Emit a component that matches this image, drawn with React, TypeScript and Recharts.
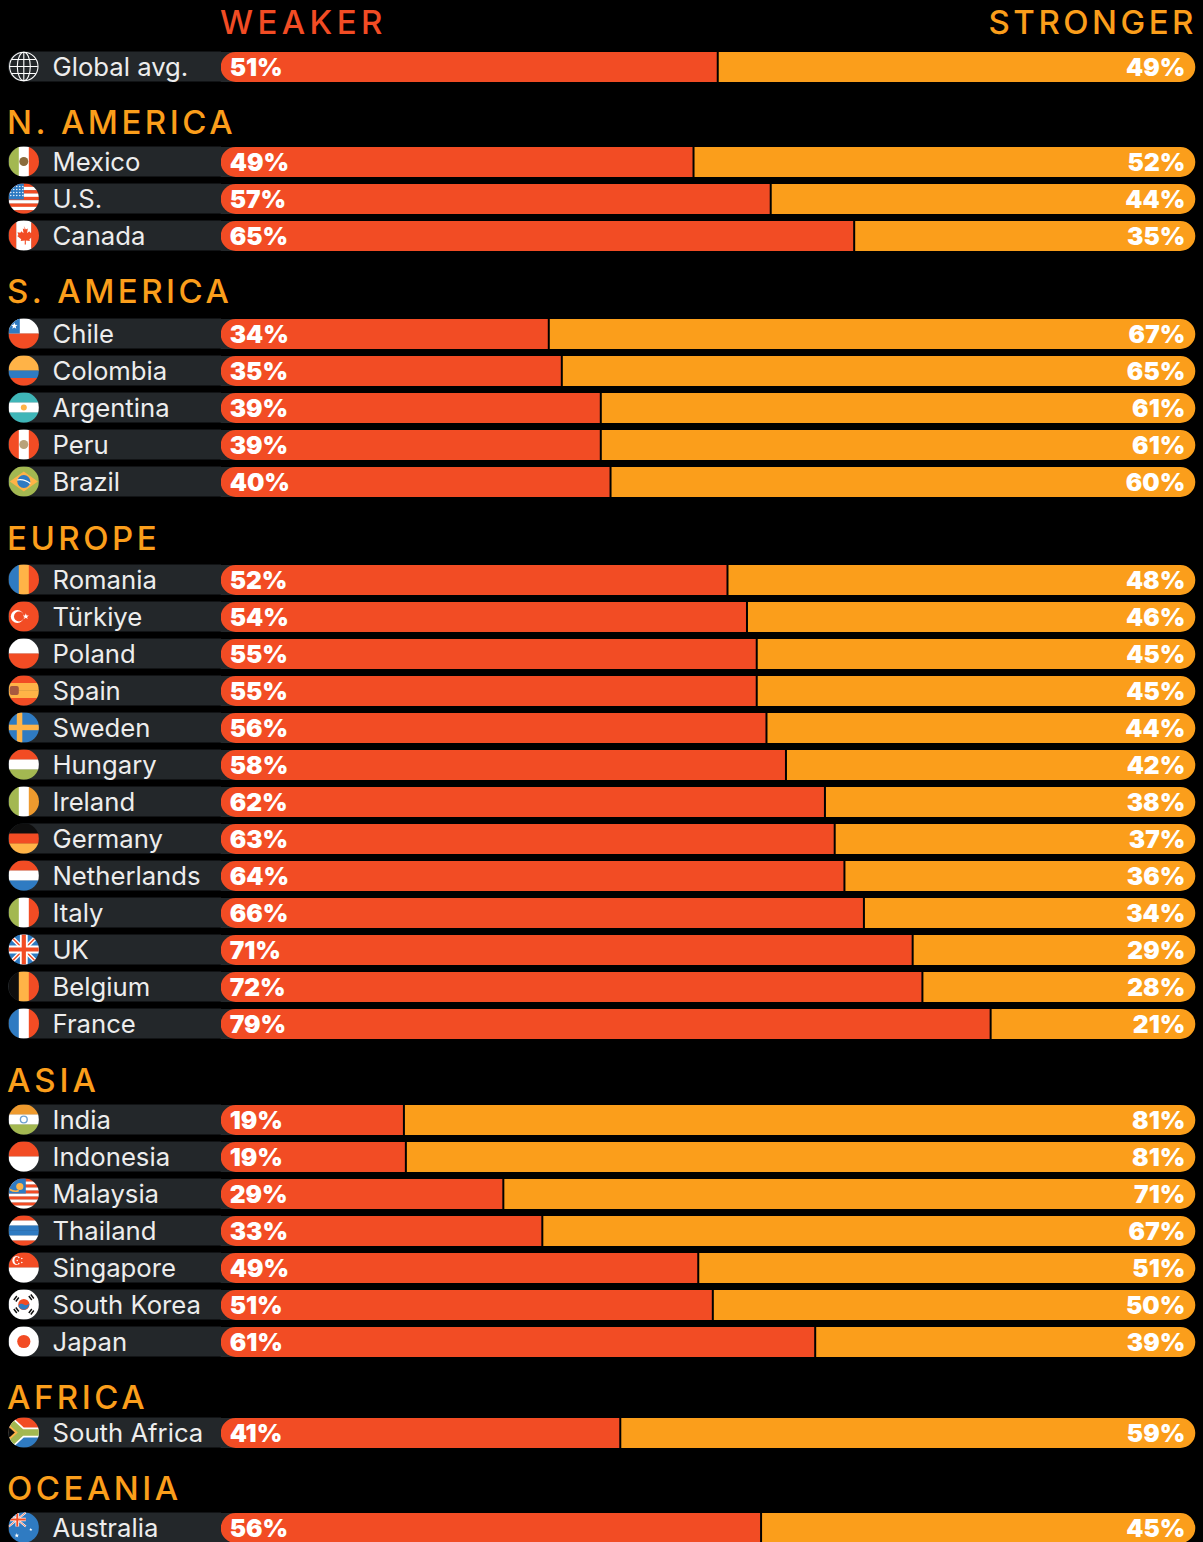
import React from "react";
import { BarChart, Bar, XAxis, YAxis, LabelList, Rectangle } from "recharts";

const RED = "#F24C24";
const ORANGE = "#FB9E1B";
const YELLOW = "#FFB347";
const BLUE = "#2F7BC2";
const GREEN = "#A3B851";
const TEAL = "#3FB6B8";
const WHITE = "#FFFFFF";
const BLACK = "#0E0E0E";
const TRACK = "#23272A";
const HEADING_FONT = "Inter, sans-serif";

const globalNames = ["Global avg."];
const globalWeaker = [51];
const globalStronger = [49];

const nAmericaNames = ["Mexico", "U.S.", "Canada"];
const nAmericaWeaker = [49, 57, 65];
const nAmericaStronger = [52, 44, 35];

const sAmericaNames = ["Chile", "Colombia", "Argentina", "Peru", "Brazil"];
const sAmericaWeaker = [34, 35, 39, 39, 40];
const sAmericaStronger = [67, 65, 61, 61, 60];

const europeNames = [
  "Romania", "Türkiye", "Poland", "Spain", "Sweden", "Hungary", "Ireland",
  "Germany", "Netherlands", "Italy", "UK", "Belgium", "France",
];
const europeWeaker = [52, 54, 55, 55, 56, 58, 62, 63, 64, 66, 71, 72, 79];
const europeStronger = [48, 46, 45, 45, 44, 42, 38, 37, 36, 34, 29, 28, 21];

// India sits a little under 19 in the picture, labels are rounded
const asiaNames = ["India", "Indonesia", "Malaysia", "Thailand", "Singapore", "South Korea", "Japan"];
const asiaWeaker = [18.8, 19, 29, 33, 49, 51, 61];
const asiaStronger = [81.2, 81, 71, 67, 51, 50, 39];

const africaNames = ["South Africa"];
const africaWeaker = [41];
const africaStronger = [59];

const oceaniaNames = ["Australia"];
const oceaniaWeaker = [56];
const oceaniaStronger = [45];

const toRows = (names: string[], weaker: number[], stronger: number[]) =>
  names.map((name, i) => ({ name, weaker: weaker[i], stronger: stronger[i] }));

// plain striped flags: direction + colours, repeated colours make wider bands
const STRIPES: Record<string, [string, string[]]> = {
  Mexico: ["v", [GREEN, WHITE, RED]],
  Canada: ["v", [RED, WHITE, WHITE, RED]],
  Colombia: ["h", [YELLOW, YELLOW, BLUE, RED]],
  Argentina: ["h", [TEAL, WHITE, TEAL]],
  Peru: ["v", [RED, WHITE, RED]],
  Romania: ["v", [BLUE, YELLOW, RED]],
  Poland: ["h", [WHITE, RED]],
  Spain: ["h", [RED, YELLOW, YELLOW, RED]],
  Hungary: ["h", [RED, WHITE, GREEN]],
  Ireland: ["v", [GREEN, WHITE, "#EE9A2E"]],
  Germany: ["h", [BLACK, RED, YELLOW]],
  Netherlands: ["h", [RED, WHITE, BLUE]],
  Italy: ["v", [GREEN, WHITE, RED]],
  Belgium: ["v", [BLACK, YELLOW, RED]],
  France: ["v", [BLUE, WHITE, RED]],
  India: ["h", ["#EE9A2E", WHITE, GREEN]],
  Indonesia: ["h", [RED, WHITE]],
  Thailand: ["h", [RED, WHITE, BLUE, BLUE, WHITE, RED]],
  Singapore: ["h", [RED, WHITE]],
  Chile: ["h", [WHITE, RED]],
};

function Stripes({ dir, colors }: { dir: string; colors: string[] }) {
  const step = 30 / colors.length;
  return (
    <>
      {colors.map((c, i) =>
        dir === "h" ? (
          <rect key={i} x={0} y={i * step} width={30} height={step + 0.3} fill={c} />
        ) : (
          <rect key={i} x={i * step} y={0} width={step + 0.3} height={30} fill={c} />
        )
      )}
    </>
  );
}

function Star({ cx, cy, r, fill }: { cx: number; cy: number; r: number; fill: string }) {
  const pts = Array.from({ length: 10 }, (_, i) => {
    const a = (Math.PI / 5) * i - Math.PI / 2;
    const rad = i % 2 ? r * 0.42 : r;
    return `${cx + rad * Math.cos(a)},${cy + rad * Math.sin(a)}`;
  }).join(" ");
  return <polygon points={pts} fill={fill} />;
}

function UnionJack({ w, h }: { w: number; h: number }) {
  return (
    <>
      <rect width={w} height={h} fill={BLUE} />
      <path d={`M0 0L${w} ${h}M${w} 0L0 ${h}`} stroke={WHITE} strokeWidth={h * 0.14} />
      <path d={`M0 0L${w} ${h}M${w} 0L0 ${h}`} stroke={RED} strokeWidth={h * 0.05} />
      <path d={`M${w / 2} 0V${h}M0 ${h / 2}H${w}`} stroke={WHITE} strokeWidth={h * 0.26} />
      <path d={`M${w / 2} 0V${h}M0 ${h / 2}H${w}`} stroke={RED} strokeWidth={h * 0.14} />
    </>
  );
}

function FlagDetail({ name }: { name: string }) {
  switch (name) {
    case "Mexico":
      return <circle cx={15} cy={15} r={4.5} fill="#8A6B3C" />;
    case "U.S.":
      return (
        <>
          <Stripes dir="h" colors={[RED, WHITE, RED, WHITE, RED, WHITE, RED, WHITE, RED]} />
          <rect width={15} height={16} fill={BLUE} />
          {[3, 6, 9, 12].map((y) =>
            [2, 5, 8, 11, 14].map((x) => <circle key={`${x}-${y}`} cx={x} cy={y} r={0.7} fill={WHITE} />)
          )}
        </>
      );
    case "Canada":
      return (
        <path
          d="M15 5.5l2 3.5 2-1-.7 4.7 2.2-2 .9 1.6 2.9-.5-.9 2.9 1.2.7-4 3.3.5 1.7-4.1-.5.1 4.1h-1.2l.1-4.1-4.1.5.5-1.7-4-3.3 1.2-.7-.9-2.9 2.9.5.9-1.6 2.2 2-.7-4.7 2 1z"
          fill={RED}
        />
      );
    case "Chile":
      return (
        <>
          <rect width={11} height={15} fill={BLUE} />
          <Star cx={5.5} cy={7.5} r={3.4} fill={WHITE} />
        </>
      );
    case "Argentina":
      return <circle cx={15} cy={15} r={3} fill={YELLOW} />;
    case "Peru":
      return <circle cx={15} cy={15} r={4.5} fill="#B9A27A" />;
    case "Brazil":
      return (
        <>
          <rect width={30} height={30} fill={GREEN} />
          <polygon points="1,15 15,5 29,15 15,25" fill={YELLOW} />
          <circle cx={15} cy={15} r={6.5} fill={BLUE} />
          <path d="M8.5 13.5Q15 12 21.5 17" stroke={WHITE} strokeWidth={1.1} fill="none" />
        </>
      );
    case "Türkiye":
      return (
        <>
          <rect width={30} height={30} fill={RED} />
          <circle cx={8.5} cy={15} r={6.5} fill={WHITE} />
          <circle cx={10.2} cy={15} r={5} fill={RED} />
          <Star cx={17} cy={15} r={3.2} fill={WHITE} />
        </>
      );
    case "Spain":
      return <rect x={1} y={10.5} width={9} height={9} rx={2} fill="#A8593F" />;
    case "Sweden":
      return (
        <>
          <rect width={30} height={30} fill={BLUE} />
          <rect x={8} width={5.5} height={30} fill={YELLOW} />
          <rect y={12.2} width={30} height={5.5} fill={YELLOW} />
        </>
      );
    case "UK":
      return <UnionJack w={30} h={30} />;
    case "India":
      return <circle cx={15} cy={15} r={3.4} fill="none" stroke="#6FA0D0" strokeWidth={1.4} />;
    case "Malaysia":
      return (
        <>
          <Stripes dir="h" colors={[RED, WHITE, RED, WHITE, RED, WHITE, RED, WHITE, RED, WHITE]} />
          <rect width={17} height={15} fill={BLUE} />
          <circle cx={11} cy={8} r={3.6} fill={YELLOW} />
          <path d="M1 11Q6 14 10 12" stroke={YELLOW} strokeWidth={1.6} fill="none" />
        </>
      );
    case "Singapore":
      return (
        <>
          <circle cx={8} cy={8} r={4.5} fill={WHITE} />
          <circle cx={9.6} cy={8} r={4} fill={RED} />
          {[[10, 5], [13, 6], [13, 10], [10, 11], [8.5, 8]].map(([x, y]) => (
            <circle key={x * 100 + y} cx={x} cy={y} r={0.8} fill={WHITE} />
          ))}
        </>
      );
    case "South Korea":
      return (
        <>
          <rect width={30} height={30} fill={WHITE} />
          <circle cx={15} cy={15} r={5.6} fill={RED} />
          <path d="M9.6 16.4a5.6 5.6 0 0 0 10.8-2.8c-.6 2.4-4.2 2.6-5.4 1.4s-4.8-1-5.4 1.4z" fill={BLUE} />
          <path d="M5 10.5l3-4M7 12l3-4M20 6.5l3 4M22 5l3 4M5 19.5l3 4M7 18l3 4M20 23.5l3-4M22 25l3-4" stroke={BLACK} strokeWidth={1.4} />
        </>
      );
    case "Japan":
      return (
        <>
          <rect width={30} height={30} fill={WHITE} />
          <circle cx={15} cy={15} r={6.6} fill={RED} />
        </>
      );
    case "South Africa":
      return (
        <>
          <rect width={30} height={15} fill={RED} />
          <rect y={15} width={30} height={15} fill={BLUE} />
          <path d="M0 3L13 15L0 27M13 15H30" stroke={WHITE} strokeWidth={10} fill="none" />
          <path d="M0 3L13 15L0 27M13 15H30" stroke={GREEN} strokeWidth={6.5} fill="none" />
          <polygon points="0,7 9,15 0,23" fill={YELLOW} />
          <polygon points="0,9.5 6,15 0,20.5" fill={BLACK} />
        </>
      );
    case "Australia":
      return (
        <>
          <rect width={30} height={30} fill={BLUE} />
          <UnionJack w={17} h={14} />
          <Star cx={22} cy={17} r={1.7} fill={WHITE} />
          <Star cx={8} cy={23} r={2.4} fill={WHITE} />
        </>
      );
    default:
      return null;
  }
}

function Flag({ name }: { name: string }) {
  if (name === "Global avg.") {
    return (
      <g fill="none" stroke={WHITE} strokeWidth={1.1}>
        <circle cx={15} cy={15} r={14.2} />
        <ellipse cx={15} cy={15} rx={6.5} ry={14.2} />
        <path d="M15 1V29M1 15H29M3 8H27M3 22H27" />
      </g>
    );
  }
  const stripe = STRIPES[name];
  const id = `flag-${name.replace(/[^A-Za-z]/g, "")}`;
  return (
    <>
      <clipPath id={id}>
        <circle cx={15} cy={15} r={15.2} />
      </clipPath>
      <g clipPath={`url(#${id})`}>
        {stripe && <Stripes dir={stripe[0]} colors={stripe[1]} />}
        <FlagDetail name={name} />
      </g>
    </>
  );
}

function CountryTick({ y, payload }: any) {
  return (
    <g>
      <Rectangle x={8} y={y - 15} width={213} height={30} radius={[15, 0, 0, 15]} fill={TRACK} />
      <g transform={`translate(8.8 ${y - 15})`}>
        <Flag name={payload.value} />
      </g>
      <text x={52.5} y={y + 9} fill="#EDEDED" fontSize={25.7} fontFamily="Inter, sans-serif">
        {payload.value}
      </text>
    </g>
  );
}

// dark track shows through the rounded left corners of the red bar
function TrackCorner(props: any) {
  const { x, y, height } = props;
  return <rect x={x} y={y} width={16} height={height} fill={TRACK} />;
}

function WeakerBar(props: any) {
  const { x, y, width, height, fill } = props;
  return <Rectangle x={x} y={y} width={width - 1} height={height} fill={fill} radius={[15, 0, 0, 15]} />;
}

function StrongerBar(props: any) {
  const { x, y, width, height, fill } = props;
  return <Rectangle x={x + 1} y={y} width={width - 1} height={height} fill={fill} radius={[0, 15, 15, 0]} />;
}

const pctStyle = { fill: WHITE, fontSize: 24.5, fontWeight: 900, fontFamily: "Inter, sans-serif" };
const pct = (v: any) => `${Math.round(v)}%`;

function Group({ top, rows }: { top: number; rows: ReturnType<typeof toRows> }) {
  return (
    <div style={{ position: "absolute", left: 0, top }}>
      <BarChart
        width={1203}
        height={rows.length * 37}
        data={rows}
        layout="vertical"
        stackOffset="expand"
        barSize={30}
        margin={{ top: 0, right: 7.7, bottom: 0, left: 0 }}
      >
        <XAxis type="number" hide domain={[0, 1]} />
        <YAxis type="category" dataKey="name" width={220.7} axisLine={false} tickLine={false} interval={0} tick={<CountryTick />} />
        <Bar dataKey="weaker" stackId="a" fill={RED} shape={<WeakerBar />} background={<TrackCorner />} isAnimationActive={false}>
          <LabelList dataKey="weaker" position="insideLeft" offset={9} formatter={pct} style={pctStyle} />
        </Bar>
        <Bar dataKey="stronger" stackId="a" fill={ORANGE} shape={<StrongerBar />} isAnimationActive={false}>
          <LabelList dataKey="stronger" position="insideRight" offset={10} formatter={pct} style={pctStyle} />
        </Bar>
      </BarChart>
    </div>
  );
}

function Heading({ text, left, right, top, color, spacing = 3.5 }: any) {
  return (
    <div
      style={{
        position: "absolute", left, right, top, color,
        fontFamily: HEADING_FONT, fontSize: 33, fontWeight: 500,
        lineHeight: "40px", letterSpacing: spacing, whiteSpace: "nowrap",
      }}
    >
      {text}
    </div>
  );
}

export default function App() {
  return (
    <div style={{ position: "absolute", left: 0, top: 0, width: 1203, height: 1542, background: "#000", overflow: "hidden" }}>
      <Heading text="WEAKER" left={220} top={2} color={RED} spacing={4.4} />
      <Heading text="STRONGER" right={6} top={2} color={ORANGE} />
      <Group top={47.8} rows={toRows(globalNames, globalWeaker, globalStronger)} />
      <Heading text="N. AMERICA" left={7} top={102} color={ORANGE} />
      <Group top={142.8} rows={toRows(nAmericaNames, nAmericaWeaker, nAmericaStronger)} />
      <Heading text="S. AMERICA" left={7} top={271} color={ORANGE} />
      <Group top={314.8} rows={toRows(sAmericaNames, sAmericaWeaker, sAmericaStronger)} />
      <Heading text="EUROPE" left={7} top={518} color={ORANGE} />
      <Group top={561.3} rows={toRows(europeNames, europeWeaker, europeStronger)} />
      <Heading text="ASIA" left={7} top={1060} color={ORANGE} spacing={4} />
      <Group top={1101.3} rows={toRows(asiaNames, asiaWeaker, asiaStronger)} />
      <Heading text="AFRICA" left={7} top={1377} color={ORANGE} />
      <Group top={1413.8} rows={toRows(africaNames, africaWeaker, africaStronger)} />
      <Heading text="OCEANIA" left={7} top={1468} color={ORANGE} />
      <Group top={1508.8} rows={toRows(oceaniaNames, oceaniaWeaker, oceaniaStronger)} />
    </div>
  );
}
